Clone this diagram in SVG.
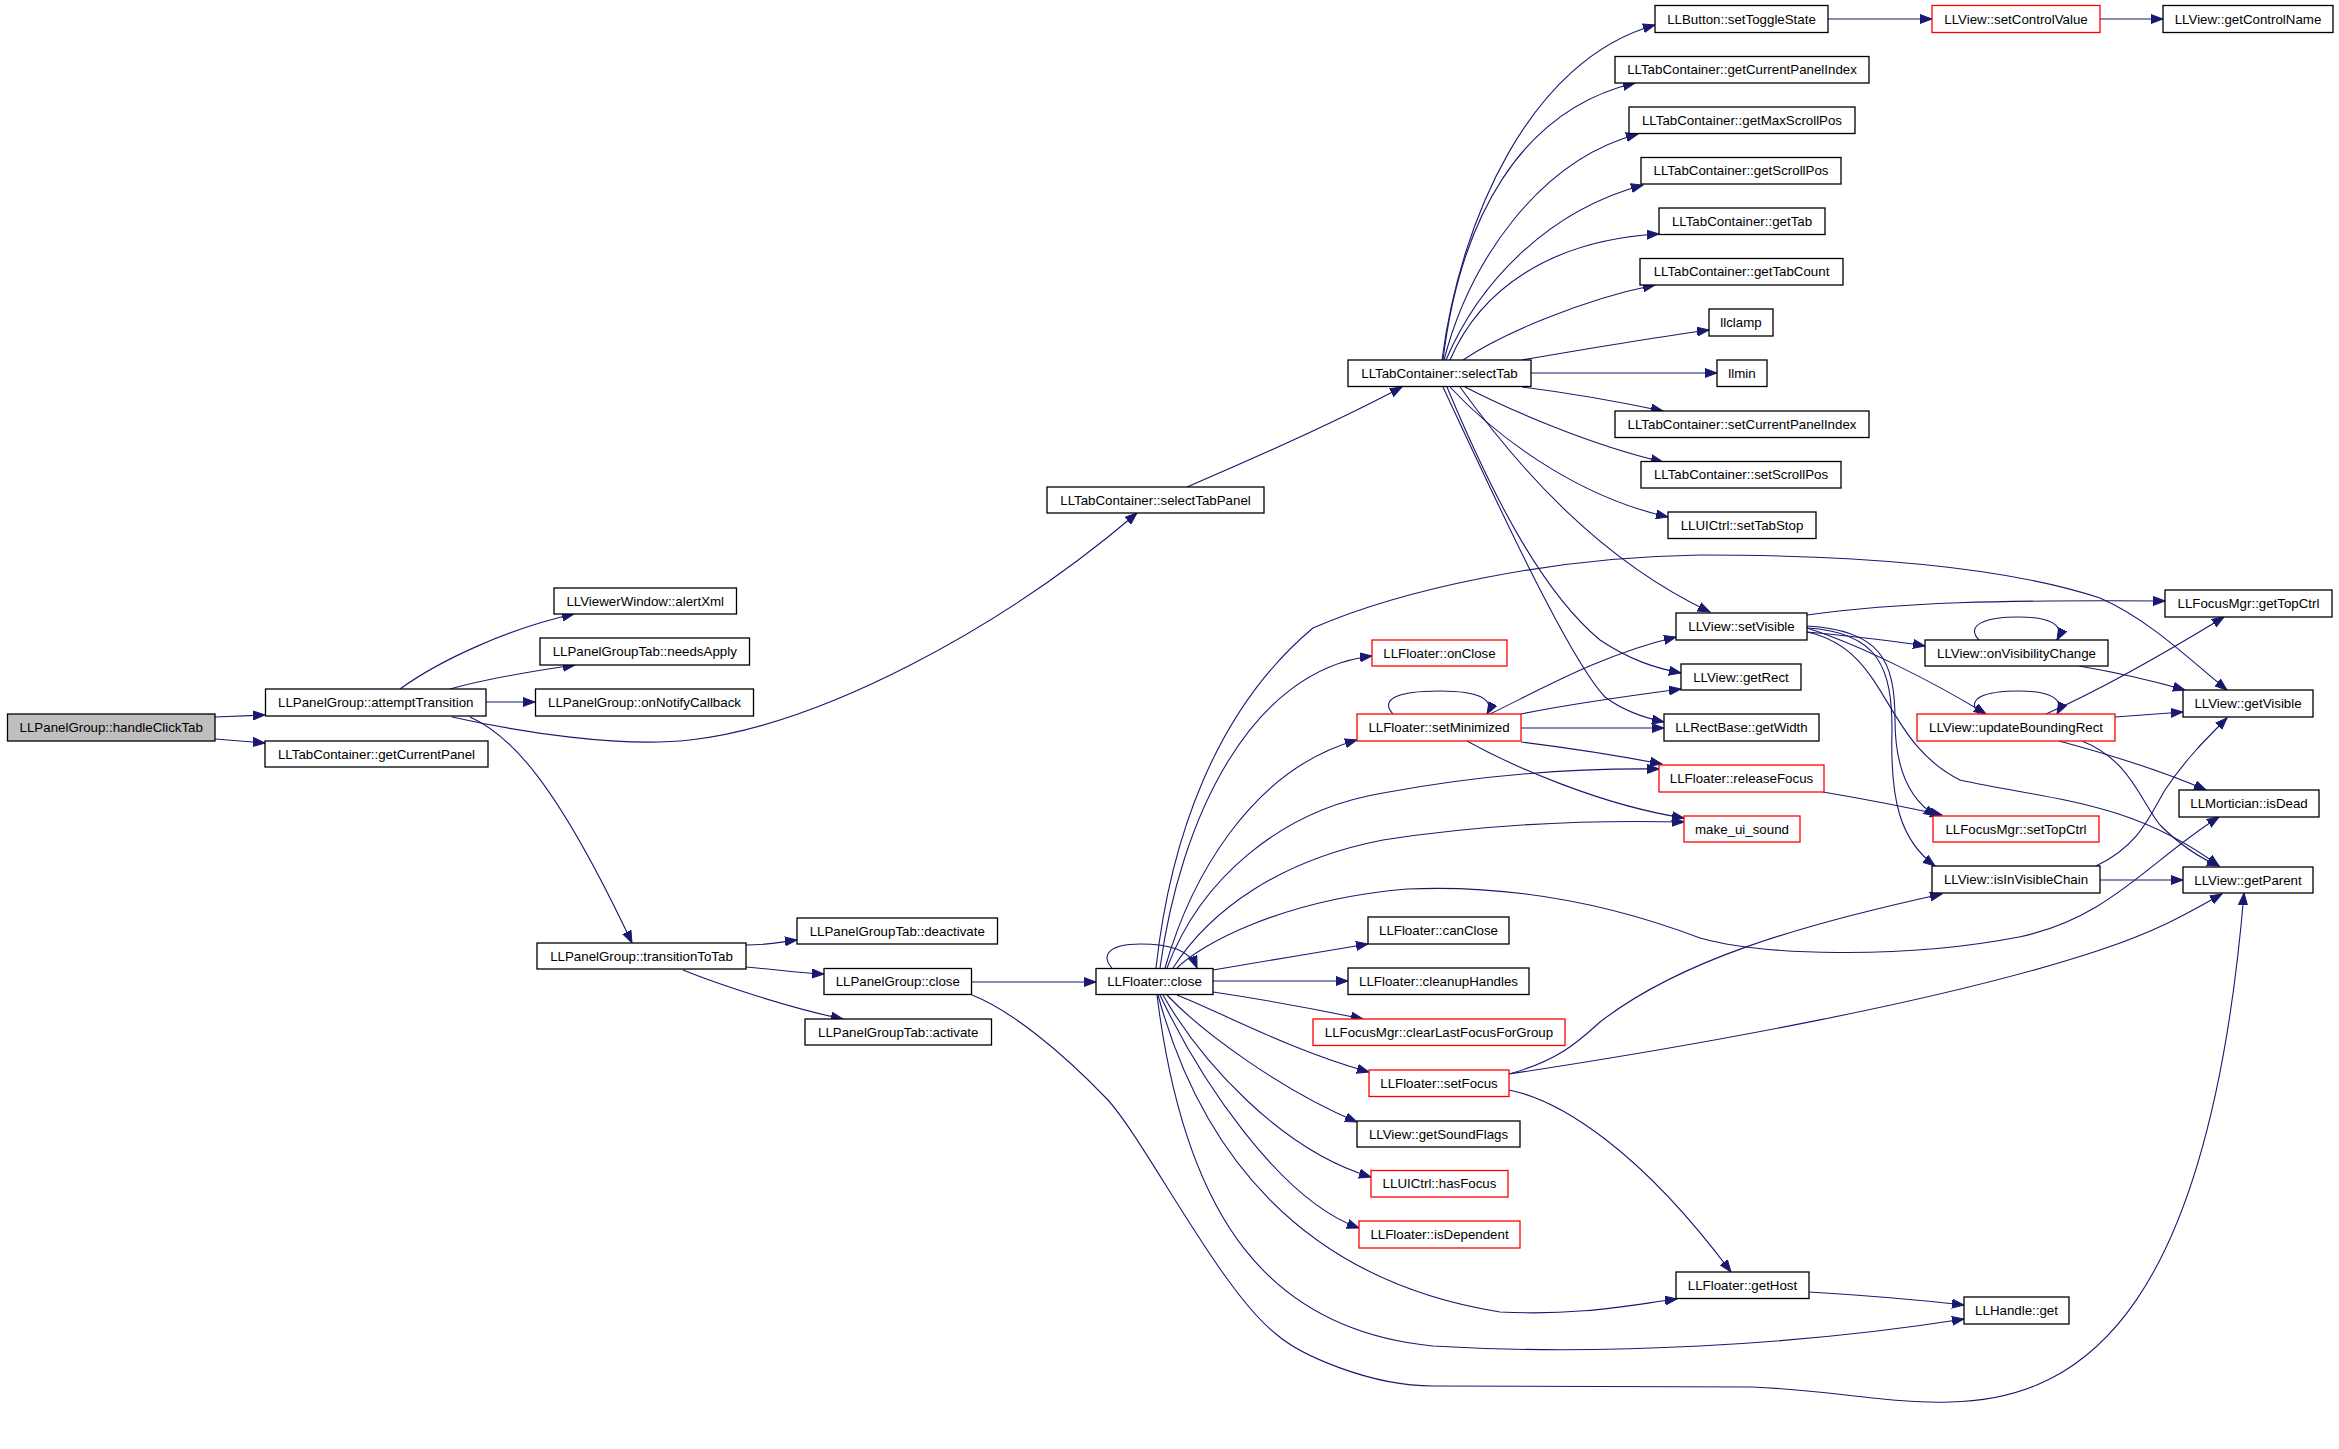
<svg xmlns="http://www.w3.org/2000/svg" width="2339" height="1449" viewBox="0 0 2339 1449">
<defs>
<marker id="ar" markerWidth="13" markerHeight="10" refX="12" refY="5" orient="auto" markerUnits="userSpaceOnUse">
<path d="M0,0.5 L12,5 L0,9.5 z" fill="#191970" stroke="#191970" stroke-width="1"/>
</marker>
<style>
.n rect{fill:#ffffff;stroke:#000000;stroke-width:1.3}
.n.r rect{stroke:#ff0000}
.n.g rect{fill:#bfbfbf}
.n text{font-family:"Liberation Sans",Arial,sans-serif;font-size:13.3px;fill:#000000;text-anchor:middle}
#edges path{fill:none;stroke:#191970;stroke-width:1.1;marker-end:url(#ar)}
</style>
</defs>
<rect width="2339" height="1449" fill="#ffffff"/>
<g id="edges">
<path d="M215,717 L265,715"/>
<path d="M215,739 L265,743"/>
<path d="M400,689 C440,660 510,628 574,614"/>
<path d="M450,689 C490,678 540,670 575,665"/>
<path d="M486,702 L535,702"/>
<path d="M452,717 C520,732 620,748 690,740 C820,725 1000,630 1137,513"/>
<path d="M470,717 C510,735 555,780 632,943"/>
<path d="M746,945 C770,945 780,942 797,940"/>
<path d="M746,967 C780,970 800,973 824,974"/>
<path d="M683,970 C720,985 790,1008 843,1019"/>
<path d="M971,982 L1096,982"/>
<path d="M972,995 C1010,1010 1060,1050 1107,1099 C1145,1140 1220,1290 1276,1334 C1300,1355 1370,1386 1433,1386 L1752,1387 C1830,1390 1890,1404 1950,1402 C2090,1400 2210,1300 2244,893"/>
<path d="M1112,968 C1100,955 1110,944 1140,944 C1170,944 1190,950 1197,968"/>
<path d="M1156,968 C1170,840 1215,710 1313,628 C1400,590 1550,557 1700,555 C1850,555 2000,565 2100,598 C2150,620 2190,660 2227,690"/>
<path d="M1160,968 C1180,820 1250,670 1372,656"/>
<path d="M1165,968 C1190,880 1250,770 1357,740"/>
<path d="M1167,968 C1200,880 1280,810 1383,793 C1480,775 1570,768 1659,769"/>
<path d="M1173,968 C1210,910 1280,860 1383,840 C1500,822 1600,820 1684,822"/>
<path d="M1177,968 C1200,945 1280,900 1407,889 C1500,885 1600,900 1700,938 C1760,955 1900,960 2019,937 C2110,918 2150,860 2219,817"/>
<path d="M1213,970 C1260,962 1320,952 1368,944"/>
<path d="M1213,981 L1348,981"/>
<path d="M1213,992 C1260,999 1320,1010 1363,1019"/>
<path d="M1177,995 C1220,1012 1290,1050 1369,1072"/>
<path d="M1167,995 C1200,1030 1280,1090 1357,1122"/>
<path d="M1163,995 C1200,1060 1280,1150 1371,1177"/>
<path d="M1160,995 C1200,1080 1280,1200 1359,1228"/>
<path d="M1158,995 C1200,1150 1300,1280 1500,1312 C1580,1316 1630,1305 1677,1299"/>
<path d="M1157,995 C1185,1220 1270,1330 1433,1346 C1600,1356 1800,1345 1964,1319"/>
<path d="M1809,1292 C1860,1295 1920,1300 1964,1305"/>
<path d="M1509,1090 C1560,1100 1640,1150 1731,1272"/>
<path d="M1509,1074 C1560,1060 1580,1040 1600,1022 C1680,960 1800,925 1942,894"/>
<path d="M1509,1074 C1700,1045 1950,1000 2100,950 C2160,930 2190,912 2222,894"/>
<path d="M1393,714 C1380,700 1395,691 1440,691 C1480,691 1495,700 1487,714"/>
<path d="M1490,714 C1540,690 1600,655 1676,637"/>
<path d="M1521,714 C1560,706 1620,697 1681,689"/>
<path d="M1521,728 L1664,728"/>
<path d="M1521,742 C1570,748 1620,756 1662,764"/>
<path d="M1467,741 C1510,765 1600,805 1684,818"/>
<path d="M1187,487 C1250,460 1340,420 1402,387"/>
<path d="M1442,360 C1460,220 1530,60 1655,25"/>
<path d="M1443,360 C1460,220 1520,110 1635,83"/>
<path d="M1444,360 C1470,260 1540,160 1638,134"/>
<path d="M1446,360 C1480,280 1550,210 1643,185"/>
<path d="M1450,360 C1480,290 1550,240 1659,234"/>
<path d="M1463,360 C1500,335 1580,300 1655,285"/>
<path d="M1522,360 C1580,350 1650,338 1709,330"/>
<path d="M1531,373 L1717,373"/>
<path d="M1522,387 C1570,393 1620,402 1663,411"/>
<path d="M1465,387 C1510,410 1590,445 1663,462"/>
<path d="M1450,387 C1490,430 1570,495 1668,517"/>
<path d="M1460,387 C1520,470 1600,560 1710,612"/>
<path d="M1447,387 C1490,490 1540,590 1600,640 C1630,660 1655,668 1681,673"/>
<path d="M1443,387 C1500,510 1570,660 1605,697 C1625,712 1645,718 1664,722"/>
<path d="M1828,19 L1932,19"/>
<path d="M2100,19 L2163,19"/>
<path d="M1807,615 C1900,602 2000,600 2165,601"/>
<path d="M1807,632 C1850,636 1890,640 1925,646"/>
<path d="M1807,628 C1860,645 1930,680 1986,714"/>
<path d="M1807,626 C1880,630 1895,660 1895,720 C1895,770 1910,800 1936,816"/>
<path d="M1807,628 C1880,632 1892,670 1892,730 C1890,800 1900,840 1935,866"/>
<path d="M1807,632 C1890,650 1880,740 1960,780 C2050,800 2130,800 2219,866"/>
<path d="M1979,640 C1965,625 1985,617 2019,617 C2050,617 2065,625 2057,640"/>
<path d="M2079,666 C2120,673 2150,680 2185,690"/>
<path d="M1979,714 C1965,698 1985,691 2019,691 C2050,691 2065,699 2057,714"/>
<path d="M2046,714 C2100,690 2170,650 2224,617"/>
<path d="M2115,717 L2183,712"/>
<path d="M2059,741 C2100,752 2160,770 2206,790"/>
<path d="M2082,741 C2130,760 2140,800 2160,825 C2180,845 2200,858 2219,866"/>
<path d="M2096,866 C2140,845 2150,815 2165,790 C2185,760 2205,740 2227,718"/>
<path d="M2100,880 L2183,880"/>
<path d="M1823,792 C1870,800 1910,808 1942,815"/>
</g>
<g id="n1" class="n g"><rect x="7.5" y="714" width="207.5" height="27"/><text x="111.25" y="732.2">LLPanelGroup::handleClickTab</text></g>
<g id="n2" class="n"><rect x="265.5" y="689" width="220.5" height="27"/><text x="375.75" y="707.2">LLPanelGroup::attemptTransition</text></g>
<g id="n3" class="n"><rect x="265" y="741" width="223" height="26"/><text x="376.5" y="758.7">LLTabContainer::getCurrentPanel</text></g>
<g id="n4" class="n"><rect x="554" y="588" width="182.5" height="26"/><text x="645.25" y="605.7">LLViewerWindow::alertXml</text></g>
<g id="n5" class="n"><rect x="540" y="638" width="209.5" height="27"/><text x="644.75" y="656.2">LLPanelGroupTab::needsApply</text></g>
<g id="n6" class="n"><rect x="535.5" y="689" width="218" height="27"/><text x="644.5" y="707.2">LLPanelGroup::onNotifyCallback</text></g>
<g id="n7" class="n"><rect x="537" y="943" width="209" height="26"/><text x="641.5" y="960.7">LLPanelGroup::transitionToTab</text></g>
<g id="n8" class="n"><rect x="797" y="918" width="200.5" height="26"/><text x="897.25" y="935.7">LLPanelGroupTab::deactivate</text></g>
<g id="n9" class="n"><rect x="824" y="968.5" width="147.5" height="26"/><text x="897.75" y="986.2">LLPanelGroup::close</text></g>
<g id="n10" class="n"><rect x="805" y="1019" width="186.5" height="26"/><text x="898.25" y="1036.7">LLPanelGroupTab::activate</text></g>
<g id="n11" class="n"><rect x="1047" y="487" width="217" height="26"/><text x="1155.5" y="504.7">LLTabContainer::selectTabPanel</text></g>
<g id="n12" class="n"><rect x="1096" y="968.5" width="117" height="26"/><text x="1154.5" y="986.2">LLFloater::close</text></g>
<g id="n13" class="n"><rect x="1348" y="360" width="183" height="26.5"/><text x="1439.5" y="377.9">LLTabContainer::selectTab</text></g>
<g id="n14" class="n"><rect x="1655" y="5.5" width="173" height="27"/><text x="1741.5" y="23.7">LLButton::setToggleState</text></g>
<g id="n15" class="n r"><rect x="1932" y="5.5" width="168" height="27"/><text x="2016" y="23.7">LLView::setControlValue</text></g>
<g id="n16" class="n"><rect x="2163" y="5.5" width="170" height="27"/><text x="2248" y="23.7">LLView::getControlName</text></g>
<g id="n17" class="n"><rect x="1615" y="56.5" width="254" height="26.5"/><text x="1742" y="74.4">LLTabContainer::getCurrentPanelIndex</text></g>
<g id="n18" class="n"><rect x="1629" y="107" width="226" height="26.5"/><text x="1742" y="124.9">LLTabContainer::getMaxScrollPos</text></g>
<g id="n19" class="n"><rect x="1641" y="157.5" width="200" height="26.5"/><text x="1741" y="175.4">LLTabContainer::getScrollPos</text></g>
<g id="n20" class="n"><rect x="1659" y="208" width="166" height="26.5"/><text x="1742" y="225.9">LLTabContainer::getTab</text></g>
<g id="n21" class="n"><rect x="1640" y="258.5" width="203" height="26.5"/><text x="1741.5" y="276.4">LLTabContainer::getTabCount</text></g>
<g id="n22" class="n"><rect x="1709" y="309" width="64" height="27"/><text x="1741" y="327.2">llclamp</text></g>
<g id="n23" class="n"><rect x="1717" y="360" width="50" height="26.5"/><text x="1742" y="377.9">llmin</text></g>
<g id="n24" class="n"><rect x="1615" y="411" width="254" height="26.5"/><text x="1742" y="428.9">LLTabContainer::setCurrentPanelIndex</text></g>
<g id="n25" class="n"><rect x="1641" y="461.5" width="200" height="26.5"/><text x="1741" y="479.4">LLTabContainer::setScrollPos</text></g>
<g id="n26" class="n"><rect x="1668" y="512" width="148" height="26.5"/><text x="1742" y="529.9">LLUICtrl::setTabStop</text></g>
<g id="n27" class="n"><rect x="1676" y="613" width="131" height="27"/><text x="1741.5" y="631.2">LLView::setVisible</text></g>
<g id="n28" class="n r"><rect x="1372" y="640" width="135" height="26"/><text x="1439.5" y="657.7">LLFloater::onClose</text></g>
<g id="n29" class="n"><rect x="1681" y="664" width="120" height="26"/><text x="1741" y="681.7">LLView::getRect</text></g>
<g id="n30" class="n r"><rect x="1357" y="714" width="164" height="27"/><text x="1439" y="732.2">LLFloater::setMinimized</text></g>
<g id="n31" class="n"><rect x="1664" y="714" width="155" height="27"/><text x="1741.5" y="732.2">LLRectBase::getWidth</text></g>
<g id="n32" class="n r"><rect x="1659" y="765" width="165" height="27"/><text x="1741.5" y="783.2">LLFloater::releaseFocus</text></g>
<g id="n33" class="n r"><rect x="1684" y="816" width="116" height="26"/><text x="1742" y="833.7">make_ui_sound</text></g>
<g id="n34" class="n"><rect x="1368" y="917" width="141" height="27"/><text x="1438.5" y="935.2">LLFloater::canClose</text></g>
<g id="n35" class="n"><rect x="1348" y="968" width="181" height="26.5"/><text x="1438.5" y="985.9">LLFloater::cleanupHandles</text></g>
<g id="n36" class="n r"><rect x="1313" y="1019" width="252" height="26.5"/><text x="1439" y="1036.9">LLFocusMgr::clearLastFocusForGroup</text></g>
<g id="n37" class="n r"><rect x="1369" y="1070" width="140" height="26.5"/><text x="1439" y="1087.9">LLFloater::setFocus</text></g>
<g id="n38" class="n"><rect x="1357" y="1121" width="163" height="26"/><text x="1438.5" y="1138.7">LLView::getSoundFlags</text></g>
<g id="n39" class="n r"><rect x="1371" y="1170.5" width="137" height="26.5"/><text x="1439.5" y="1188.4">LLUICtrl::hasFocus</text></g>
<g id="n40" class="n r"><rect x="1359" y="1221" width="161" height="27"/><text x="1439.5" y="1239.2">LLFloater::isDependent</text></g>
<g id="n41" class="n"><rect x="1676" y="1272" width="133" height="26.5"/><text x="1742.5" y="1289.9">LLFloater::getHost</text></g>
<g id="n42" class="n"><rect x="1964" y="1297" width="105" height="27"/><text x="2016.5" y="1315.2">LLHandle::get</text></g>
<g id="n43" class="n"><rect x="2165" y="590" width="167" height="27"/><text x="2248.5" y="608.2">LLFocusMgr::getTopCtrl</text></g>
<g id="n44" class="n"><rect x="1925" y="640" width="183" height="26"/><text x="2016.5" y="657.7">LLView::onVisibilityChange</text></g>
<g id="n45" class="n"><rect x="2183" y="690" width="130" height="27"/><text x="2248" y="708.2">LLView::getVisible</text></g>
<g id="n46" class="n r"><rect x="1917" y="714" width="198" height="27"/><text x="2016" y="732.2">LLView::updateBoundingRect</text></g>
<g id="n47" class="n"><rect x="2179" y="790" width="140" height="27"/><text x="2249" y="808.2">LLMortician::isDead</text></g>
<g id="n48" class="n r"><rect x="1933" y="816" width="166" height="26"/><text x="2016" y="833.7">LLFocusMgr::setTopCtrl</text></g>
<g id="n49" class="n"><rect x="1932" y="866" width="168" height="27"/><text x="2016" y="884.2">LLView::isInVisibleChain</text></g>
<g id="n50" class="n"><rect x="2183" y="867" width="130" height="26"/><text x="2248" y="884.7">LLView::getParent</text></g>
</svg>
